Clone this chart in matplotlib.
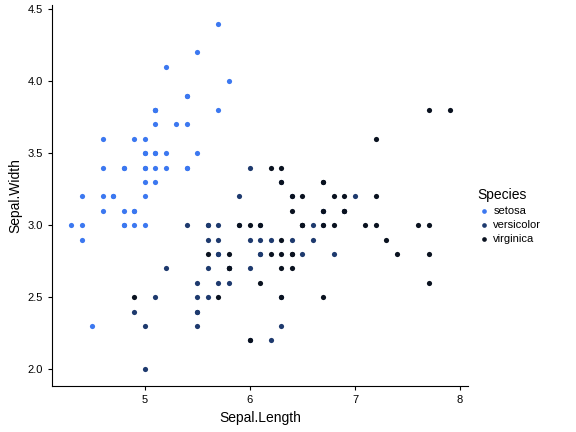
import matplotlib
matplotlib.use("Agg")
import matplotlib.pyplot as plt
plt.rcParams['font.family'] = ['Liberation Sans', 'DejaVu Sans']

species = ["setosa", "versicolor", "virginica"]
colors = ["#3C78F0", "#1E3A6E", "#0A1220"]
setosa_len = [5.1,4.9,4.7,4.6,5.0,5.4,4.6,5.0,4.4,4.9,5.4,4.8,4.8,4.3,5.8,5.7,5.4,5.1,5.7,5.1,5.4,5.1,4.6,5.1,4.8,5.0,5.0,5.2,5.2,4.7,4.8,5.4,5.2,5.5,4.9,5.0,5.5,4.9,4.4,5.1,5.0,4.5,4.4,5.0,5.1,4.8,5.1,4.6,5.3,5.0]
setosa_wid = [3.5,3.0,3.2,3.1,3.6,3.9,3.4,3.4,2.9,3.1,3.7,3.4,3.0,3.0,4.0,4.4,3.9,3.5,3.8,3.8,3.4,3.7,3.6,3.3,3.4,3.0,3.4,3.5,3.4,3.2,3.1,3.4,4.1,4.2,3.1,3.2,3.5,3.6,3.0,3.4,3.5,2.3,3.2,3.5,3.8,3.0,3.8,3.2,3.7,3.3]
versi_len = [7.0,6.4,6.9,5.5,6.5,5.7,6.3,4.9,6.6,5.2,5.0,5.9,6.0,6.1,5.6,6.7,5.6,5.8,6.2,5.6,5.9,6.1,6.3,6.1,6.4,6.6,6.8,6.7,6.0,5.7,5.5,5.5,5.8,6.0,5.4,6.0,6.7,6.3,5.6,5.5,5.5,6.1,5.8,5.0,5.6,5.7,5.7,6.2,5.1,5.7]
versi_wid = [3.2,3.2,3.1,2.3,2.8,2.8,3.3,2.4,2.9,2.7,2.0,3.0,2.2,2.9,2.9,3.1,3.0,2.7,2.2,2.5,3.2,2.8,2.5,2.8,2.9,3.0,2.8,3.0,2.9,2.6,2.4,2.4,2.7,2.7,3.0,3.4,3.1,2.3,3.0,2.5,2.6,3.0,2.6,2.3,2.7,3.0,2.9,2.9,2.5,2.8]
virg_len = [6.3,5.8,7.1,6.3,6.5,7.6,4.9,7.3,6.7,7.2,6.5,6.4,6.8,5.7,5.8,6.4,6.5,7.7,7.7,6.0,6.9,5.6,7.7,6.3,6.7,7.2,6.2,6.1,6.4,7.2,7.4,7.9,6.4,6.3,6.1,7.7,6.3,6.4,6.0,6.9,6.7,6.9,5.8,6.8,6.7,6.7,6.3,6.5,6.2,5.9]
virg_wid = [3.3,2.7,3.0,2.9,3.0,3.0,2.5,2.9,2.5,3.6,3.2,2.7,3.0,2.5,2.8,3.2,3.0,3.8,2.6,2.2,3.2,2.8,2.8,2.7,3.3,3.2,2.8,3.0,2.8,3.0,2.8,3.8,2.8,2.8,2.6,3.0,3.4,3.1,3.0,3.1,3.1,3.1,2.7,3.2,3.3,3.0,2.5,3.0,3.4,3.0]

fig = plt.figure(figsize=(5.76, 4.32), dpi=100)
ax = fig.add_axes([0.090, 0.106, 0.7225, 0.882])
for name, c, xs, ys in zip(species, colors,
                           [setosa_len, versi_len, virg_len],
                           [setosa_wid, versi_wid, virg_wid]):
    ax.scatter(xs, ys, s=14, color=c, label=name, linewidths=0)
ax.set_xlim(4.114, 8.076)
ax.set_ylim(1.882, 4.528)
ax.set_xticks([5, 6, 7, 8])
ax.set_xticklabels(["5", "6", "7", "8"])
ax.set_yticks([2.0, 2.5, 3.0, 3.5, 4.0, 4.5])
ax.set_yticklabels(["2.0", "2.5", "3.0", "3.5", "4.0", "4.5"])
for s in ["top", "right"]:
    ax.spines[s].set_visible(False)
ax.tick_params(labelsize=8, colors="black", length=3)
ax.set_xlabel("Sepal.Length", fontsize=10)
ax.set_ylabel("Sepal.Width", fontsize=10)
leg = fig.legend(title="Species", loc="center left", bbox_to_anchor=(0.812, 0.5),
                 frameon=False, fontsize=8, title_fontsize=10,
                 handletextpad=0.2, handlelength=1.2, labelspacing=0.35,
                 markerscale=0.9)
leg._legend_box.align = "left"
fig.savefig("out.png", dpi=100)
